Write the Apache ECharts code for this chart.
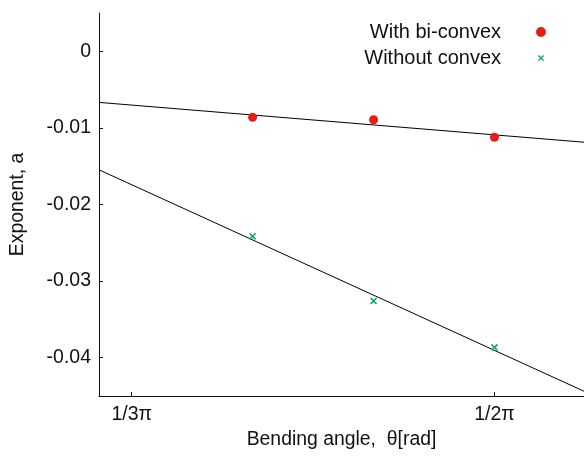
<!DOCTYPE html>
<html>
<head>
<meta charset="utf-8">
<script src="https://cdn.jsdelivr.net/npm/echarts@6/dist/echarts.min.js"></script>
<style>
  html, body { margin: 0; padding: 0; background: #fff; }
  #chart { width: 584px; height: 457px; }
</style>
</head>
<body>
<div id="chart"></div>
<script>
// Bending angles (rad) of the measured specimens: 70°, 80°, 90°
const angles = [1.2217, 1.3963, 1.5708];
// Fitted exponent a for each configuration
const withBiConvex = [-0.00862, -0.00893, -0.01122];
const withoutConvex = [-0.02415, -0.03260, -0.03866];
// Straight-line fits, given at the ends of the x range
const fitX = [1.0, 1.7];
const fitWithBiConvex = [-0.00667, -0.01187];
const fitWithoutConvex = [-0.01547, -0.04438];
// Axis ticks
const xTickValues = [Math.PI / 3, Math.PI / 2];
const xTickLabels = ['1/3π', '1/2π'];
const yTickValues = [0, -0.01, -0.02, -0.03, -0.04];
const yTickLabels = ['0', '-0.01', '-0.02', '-0.03', '-0.04'];

const FONT = '"Liberation Sans", Arial, sans-serif';
const INK = '#111';
// Filled "x" marker; the leading moves pad its bounds so it draws smaller than the dot
const CROSS = 'path://M-3,-3M13,13M0,1.6L1.6,0L5,3.4L8.4,0L10,1.6L6.6,5L10,8.4L8.4,10L5,6.6L1.6,10L0,8.4L3.4,5Z';

const pairs = (xs, ys) => xs.map((x, i) => [x, ys[i]]);

const chart = echarts.init(document.getElementById('chart'), null, { renderer: 'canvas' });
chart.setOption({
  animation: false,
  backgroundColor: '#fff',
  textStyle: { fontFamily: FONT, color: INK },
  grid: { left: 98, right: 0, top: 13, bottom: 61, containLabel: false },
  legend: {
    orient: 'vertical',
    align: 'right',
    right: 38,
    top: 22,
    padding: 0,
    itemWidth: 70,
    itemHeight: 10,
    itemGap: 6,
    textStyle: { fontFamily: FONT, fontSize: 20, color: INK },
    data: [
      { name: 'With bi-convex', icon: 'circle' },
      { name: 'Without convex', icon: CROSS }
    ]
  },
  xAxis: {
    type: 'value',
    min: 1.0,
    max: 1.7,
    name: 'Bending angle,  θ[rad]',
    nameLocation: 'middle',
    nameGap: 33,
    nameTextStyle: { fontFamily: FONT, fontSize: 19.4, color: INK },
    axisLine: { show: true, onZero: false, lineStyle: { color: INK, width: 1 } },
    axisTick: { show: true, inside: true, length: 4, customValues: xTickValues, lineStyle: { color: INK } },
    axisLabel: {
      show: true,
      margin: 9,
      fontFamily: FONT,
      fontSize: 19.5,
      color: INK,
      customValues: xTickValues,
      formatter: (v) => xTickLabels[xTickValues.findIndex(t => Math.abs(t - v) < 1e-9)] || ''
    },
    splitLine: { show: false }
  },
  yAxis: {
    type: 'value',
    min: -0.045,
    max: 0.005,
    name: 'Exponent, a',
    nameLocation: 'middle',
    nameGap: 72,
    nameTextStyle: { fontFamily: FONT, fontSize: 19.4, color: INK },
    axisLine: { show: true, onZero: false, lineStyle: { color: INK, width: 1 } },
    axisTick: { show: true, inside: true, length: 4, customValues: yTickValues, lineStyle: { color: INK } },
    axisLabel: {
      show: true,
      margin: 8,
      fontFamily: FONT,
      fontSize: 19.5,
      color: INK,
      customValues: yTickValues,
      formatter: (v) => yTickLabels[yTickValues.findIndex(t => Math.abs(t - v) < 1e-9)] || ''
    },
    splitLine: { show: false }
  },
  series: [
    {
      type: 'line',
      data: pairs(fitX, fitWithBiConvex),
      symbol: 'none',
      silent: true,
      lineStyle: { color: '#000', width: 1 },
      z: 1
    },
    {
      type: 'line',
      data: pairs(fitX, fitWithoutConvex),
      symbol: 'none',
      silent: true,
      lineStyle: { color: '#000', width: 1 },
      z: 1
    },
    {
      name: 'With bi-convex',
      type: 'scatter',
      data: pairs(angles, withBiConvex),
      symbol: 'circle',
      symbolSize: 9,
      itemStyle: { color: '#e41e12', opacity: 1 },
      z: 3
    },
    {
      name: 'Without convex',
      type: 'scatter',
      data: pairs(angles, withoutConvex),
      symbol: CROSS,
      symbolSize: 11.5,
      itemStyle: { color: '#14a673', opacity: 1 },
      z: 3
    }
  ]
});
</script>
</body>
</html>
